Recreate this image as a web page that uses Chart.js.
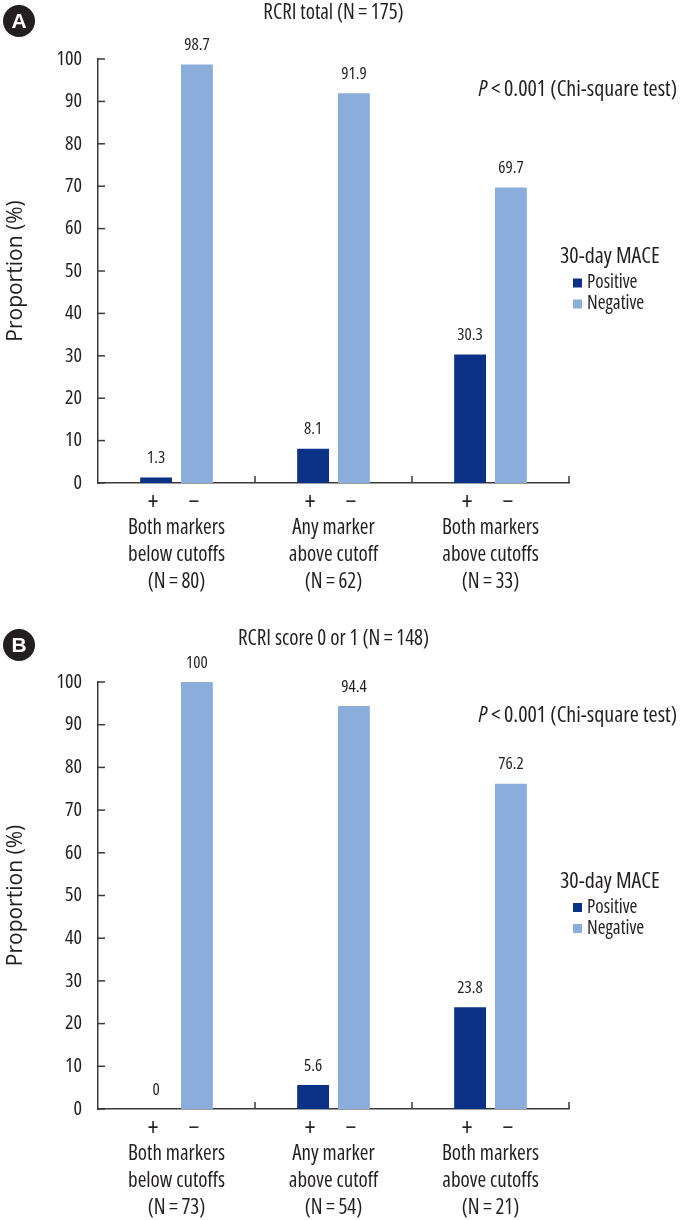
<!DOCTYPE html>
<html><head><meta charset="utf-8">
<script src="https://cdn.jsdelivr.net/npm/chart.js@4.4.1/dist/chart.umd.min.js"></script>
<style>
html,body{margin:0;padding:0;background:#fff;}
#wa{position:absolute;left:0;top:0;width:688px;height:605px;}
#wb{position:absolute;left:0;top:605px;width:688px;height:615px;}
</style></head><body>
<div id="wa"><canvas id="ca"></canvas></div>
<div id="wb"><canvas id="cb"></canvas></div>
<script>
const seriesNames = ["Positive", "Negative"];
const legendTitle = "30-day MACE";
const categoriesA = [["Both markers","below cutoffs","(N\u2009=\u200980)"],["Any marker","above cutoff","(N\u2009=\u200962)"],["Both markers","above cutoffs","(N\u2009=\u200933)"]];
const categoriesB = [["Both markers","below cutoffs","(N\u2009=\u200973)"],["Any marker","above cutoff","(N\u2009=\u200954)"],["Both markers","above cutoffs","(N\u2009=\u200921)"]];
const positiveA = [1.3, 8.1, 30.3];
const negativeA = [98.7, 91.9, 69.7];
const positiveB = [0, 5.6, 23.8];
const negativeB = [100, 94.4, 76.2];
const titleA = "RCRI total (N\u2009=\u2009175)";
const titleB = "RCRI score 0 or 1 (N\u2009=\u2009148)";
const pText = "\u2009<\u20090.001 (Chi-square test)";
const yTitle = "Proportion (%)";

const FAM = '"Open Sans","Roboto Condensed",Roboto,sans-serif';
const ST = 'condensed';
const f = (px, extra) => (extra ? extra + ' ' : '') + ST + ' ' + px + 'px ' + FAM;
const INK = '#231f20';
const AXIS = '#3a3a3a';
const COLORS = ['#0b3287', '#8aaddb'];

function decor(o){
  return {id:'decor', afterDraw(chart){
    const ctx = chart.ctx, a = chart.chartArea, xs = chart.scales.x, ys = chart.scales.y;
    ctx.save();
    ctx.fillStyle = '#231f20';
    ctx.beginPath(); ctx.arc(19, o.badgeY, 16, 0, Math.PI*2); ctx.fill();
    ctx.fillStyle = '#fff'; ctx.font = 'bold 21px "Liberation Sans",Arial,sans-serif';
    ctx.textAlign = 'center'; ctx.textBaseline = 'middle';
    ctx.fillText(o.badge, 19, o.badgeY + 1);
    ctx.fillStyle = INK; ctx.font = f(21);
    ctx.fillText(o.title, (a.left + a.right)/2, o.titleY);
    ctx.strokeStyle = AXIS; ctx.lineWidth = 1.5;
    ys.ticks.forEach(t => {
      const py = ys.getPixelForValue(t.value);
      ctx.beginPath(); ctx.moveTo(a.left, py); ctx.lineTo(a.left + 7, py); ctx.stroke();
    });
    const n = chart.data.labels.length;
    for (let i = 1; i <= n; i++) {
      const px = i < n ? (xs.getPixelForValue(i-1) + xs.getPixelForValue(i))/2 : a.right;
      ctx.beginPath(); ctx.moveTo(px, a.bottom); ctx.lineTo(px, a.bottom - 7); ctx.stroke();
    }
    chart.data.datasets.forEach((ds, di) => {
      const meta = chart.getDatasetMeta(di);
      meta.data.forEach((el, i) => {
        ctx.fillStyle = INK;
        ctx.font = f(25);
        ctx.fillText(di === 0 ? '+' : '\u2212', el.x - 3, a.bottom + 20);
        ctx.font = f(17);
        ctx.fillText(String(ds.data[i]), el.x, el.y - 19);
      });
    });
    ctx.font = f(22); ctx.textAlign = 'right';
    const pY = a.top + o.pOff;
    ctx.fillText(pText, 677, pY);
    const w = ctx.measureText(pText).width;
    ctx.font = f(22, 'italic');
    ctx.fillText('P', 677 - w, pY);
    const mid = (a.top + a.bottom)/2;
    ctx.textAlign = 'left';
    ctx.font = f(22);
    ctx.fillText(legendTitle, 560, mid - 14);
    ctx.font = f(19);
    chart.data.datasets.forEach((ds, di) => {
      const ly = mid + 12 + di*21;
      ctx.fillStyle = ds.backgroundColor;
      ctx.fillRect(573, ly - 4.5, 9, 9);
      ctx.fillStyle = INK;
      ctx.fillText(ds.label, 587, ly);
    });
    ctx.restore();
  }};
}

function makeChart(id, labels, pos, neg, o){
  return new Chart(document.getElementById(id), {
    type: 'bar',
    data: {
      labels: labels,
      datasets: [
        {label: seriesNames[0], data: pos, backgroundColor: COLORS[0], categoryPercentage: 0.52, barPercentage: 0.78},
        {label: seriesNames[1], data: neg, backgroundColor: COLORS[1], categoryPercentage: 0.52, barPercentage: 0.78}
      ]
    },
    options: {
      responsive: true, maintainAspectRatio: false, animation: false, devicePixelRatio: 1,
      layout: {padding: {left: 0, right: 119, top: o.padTop, bottom: 0}},
      plugins: {legend: {display: false}, tooltip: {enabled: false}, title: {display: false}},
      scales: {
        x: {
          grid: {display: false, drawTicks: false, tickLength: 0},
          border: {display: true, color: AXIS, width: 1.5},
          ticks: {color: INK, font: {family: FAM, size: 21, weight: ST, lineHeight: 27/21}, padding: 32, maxRotation: 0, autoSkip: false},
          afterFit: s => { s.height = o.xH; }
        },
        y: {
          min: 0, max: 100,
          grid: {display: false, drawTicks: false, tickLength: 0},
          border: {display: true, color: AXIS, width: 1.5},
          ticks: {stepSize: 10, color: INK, font: {family: FAM, size: 20, weight: ST}, padding: 16},
          title: {display: true, text: yTitle, color: INK, font: {family: FAM, size: 21}, padding: {top: 3, bottom: 0}},
          afterFit: s => { s.width = 98; }
        }
      }
    },
    plugins: [decor(o)]
  });
}

makeChart('ca', categoriesA, positiveA, negativeA, {badge: 'A', badgeY: 21, title: titleA, titleY: 13, padTop: 59, xH: 122, pOff: 31});
makeChart('cb', categoriesB, positiveB, negativeB, {badge: 'B', badgeY: 40, title: titleB, titleY: 34, padTop: 77, xH: 111, pOff: 34});
</script>
</body></html>
